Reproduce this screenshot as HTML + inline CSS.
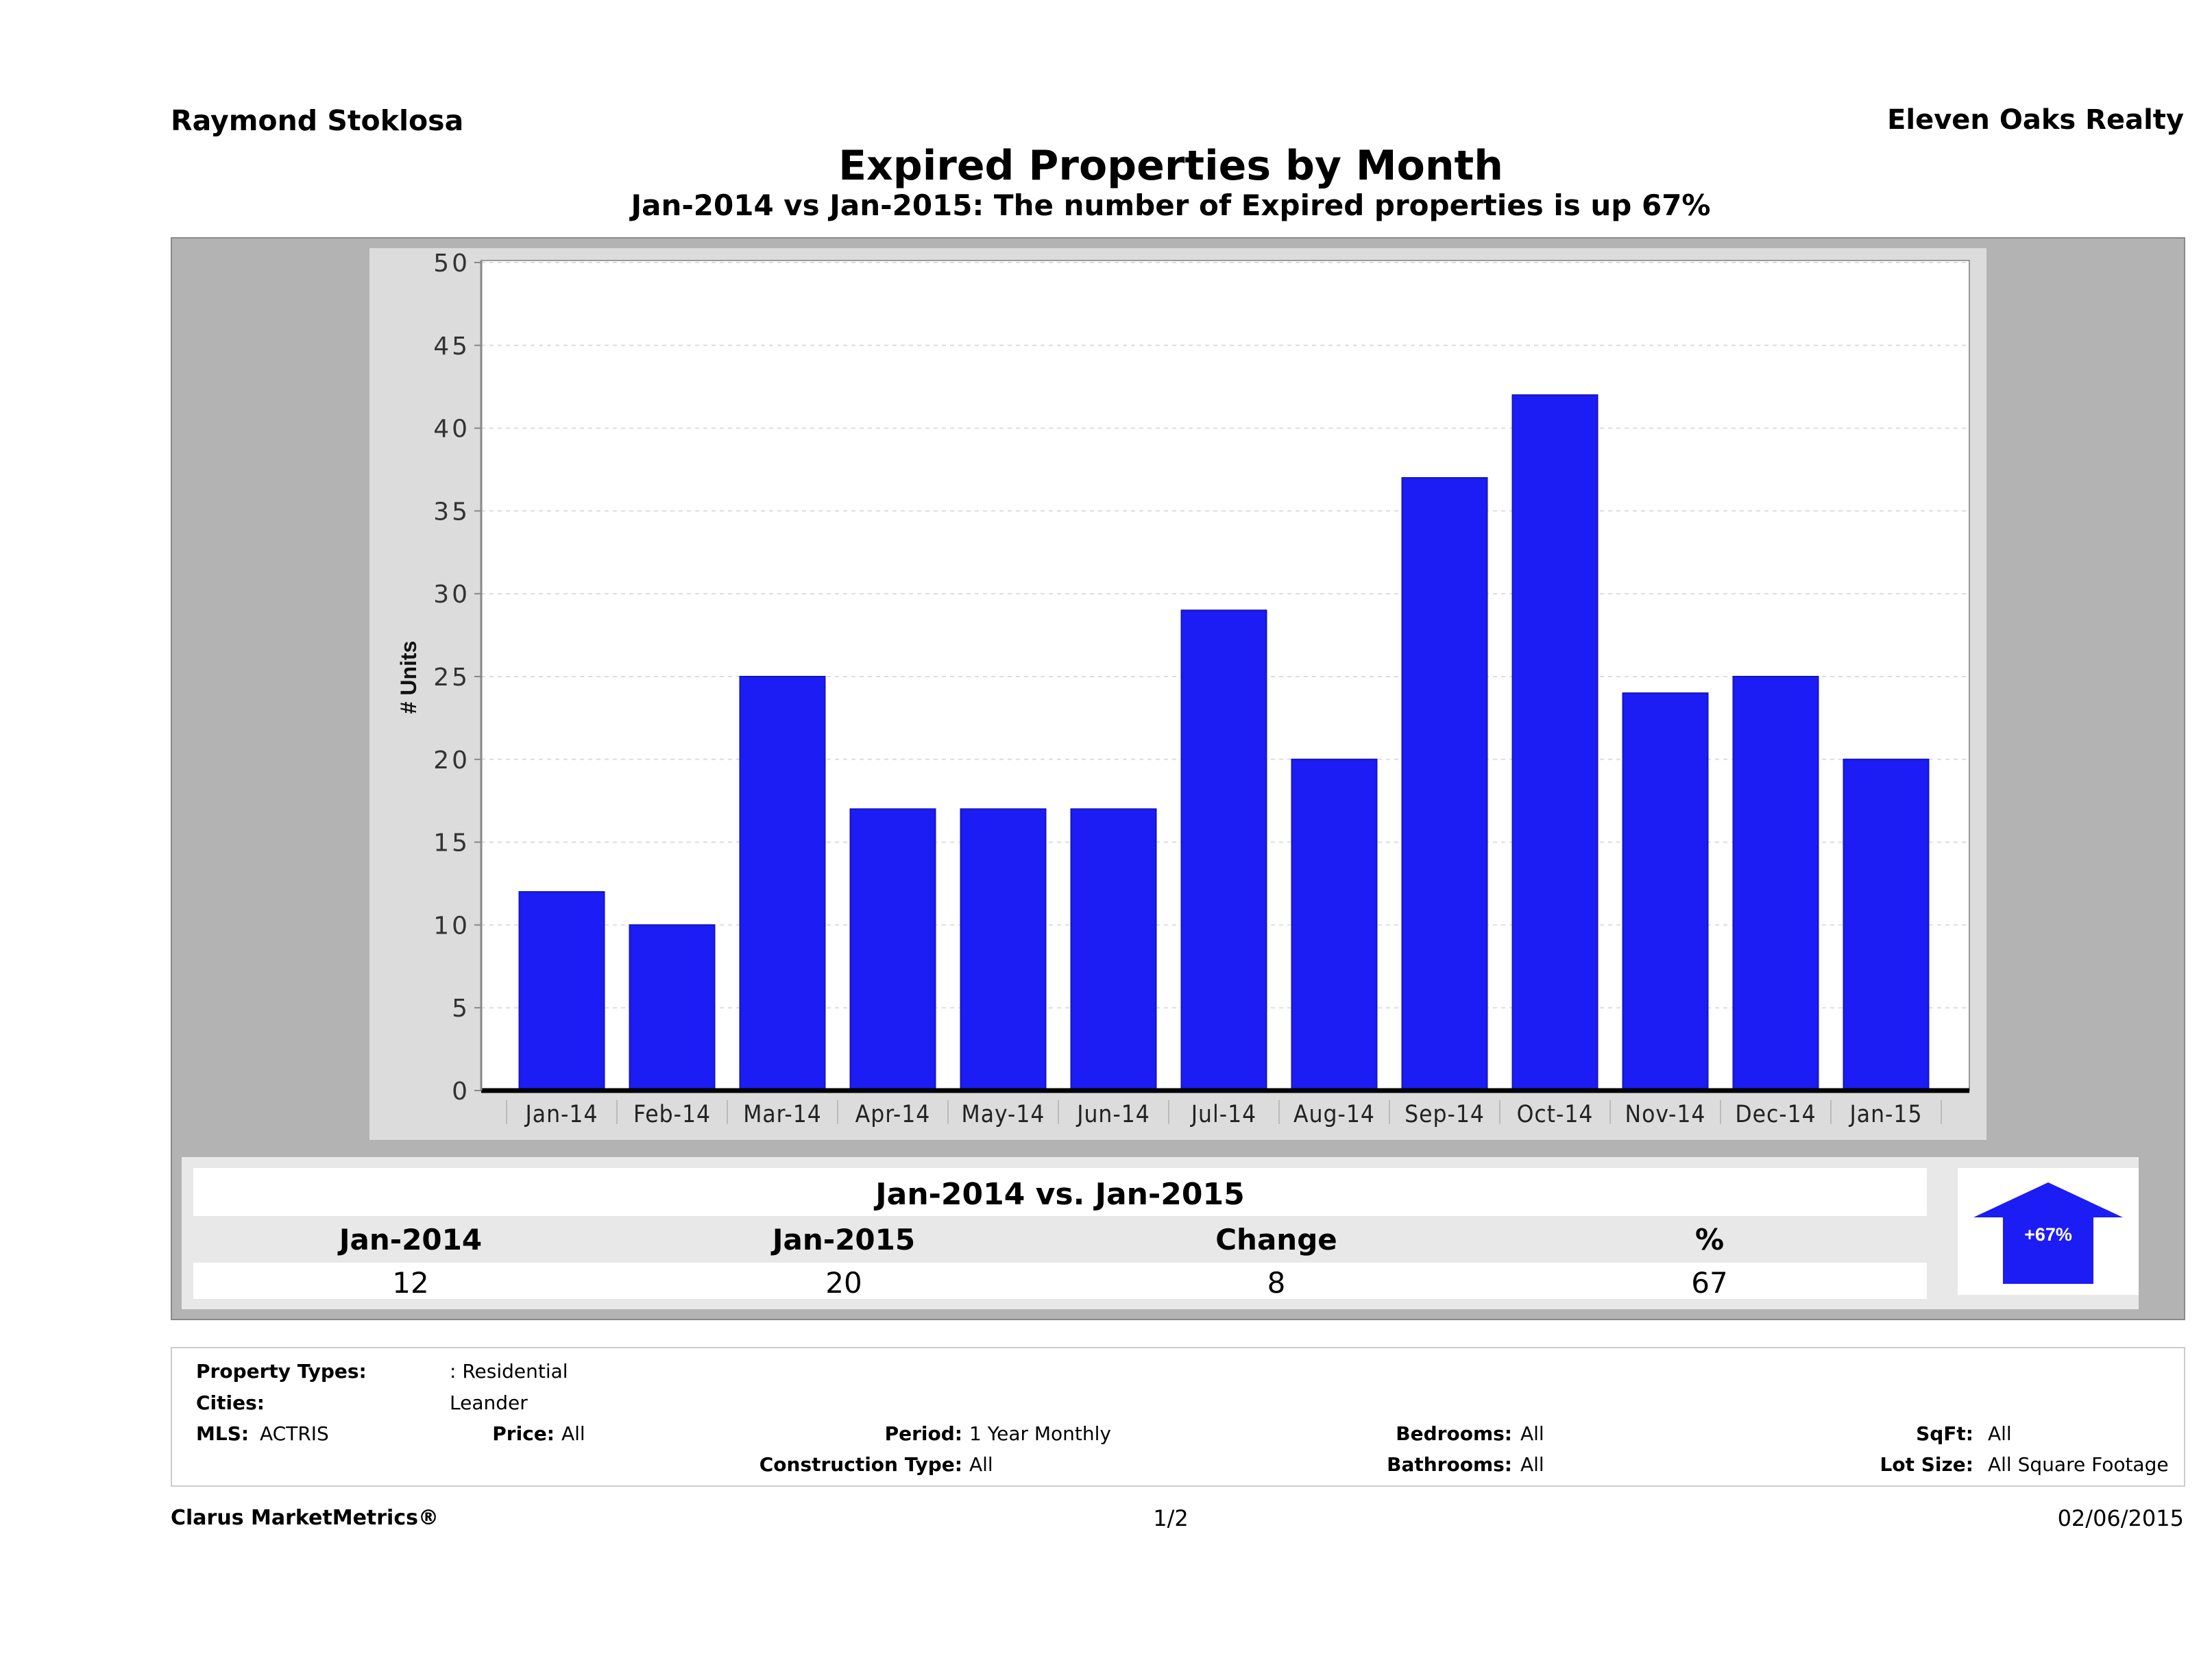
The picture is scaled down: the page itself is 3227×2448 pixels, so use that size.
<!DOCTYPE html>
<html><head><meta charset="utf-8"><style>
body{margin:0;background:#fff;font-family:"DejaVu Sans","Liberation Sans",sans-serif;}
#root{position:relative;width:3227px;height:2448px;overflow:hidden;background:#fff;}
.a{position:absolute;white-space:nowrap;}
.b{font-weight:bold;}
.r{text-align:right;}
</style></head><body>
<div id="root">
<div class="a b" style="left:249px;top:152px;font-size:41px;">Raymond Stoklosa</div>
<div class="a b" style="right:41px;top:152px;font-size:40px;">Eleven Oaks Realty</div>
<div class="a b" style="left:0;width:3416px;text-align:center;top:207px;font-size:60px;">Expired Properties by Month</div>
<div class="a b" style="left:0;width:3416px;text-align:center;top:275px;font-size:42px;">Jan-2014 vs Jan-2015: The number of Expired  properties is up 67%</div>

<div class="a" style="left:249px;top:346px;width:2935px;height:1576px;background:#b3b3b3;border:2px solid #8a8a8a;"></div>
<div class="a" style="left:539px;top:362px;width:2359px;height:1301px;background:#dcdcdc;"></div>

<svg class="a" style="left:0;top:0" width="3227" height="1700">
<g id="g"></g>
</svg>

<div class="a" style="left:265px;top:1688px;width:2855px;height:222px;background:#e8e8e8;"></div>
<div class="a" style="left:282px;top:1704px;width:2529px;height:70px;background:#fff;"></div>
<div class="a b" style="left:282px;width:2529px;text-align:center;top:1717px;font-size:44px;">Jan-2014 vs. Jan-2015</div>
<div class="a" style="left:282px;top:1842px;width:2529px;height:53px;background:#fff;"></div>
<div class="a b" style="left:449px;width:300px;text-align:center;top:1784px;font-size:42px;">Jan-2014</div>
<div class="a b" style="left:1081px;width:300px;text-align:center;top:1784px;font-size:42px;">Jan-2015</div>
<div class="a b" style="left:1712px;width:300px;text-align:center;top:1784px;font-size:42px;">Change</div>
<div class="a b" style="left:2344px;width:300px;text-align:center;top:1784px;font-size:42px;">%</div>
<div class="a" style="left:449px;width:300px;text-align:center;top:1847px;font-size:42px;">12</div>
<div class="a" style="left:1081px;width:300px;text-align:center;top:1847px;font-size:42px;">20</div>
<div class="a" style="left:1712px;width:300px;text-align:center;top:1847px;font-size:42px;">8</div>
<div class="a" style="left:2344px;width:300px;text-align:center;top:1847px;font-size:42px;">67</div>
<div class="a" style="left:2856px;top:1704px;width:264px;height:185px;background:#fff;"></div>
<svg class="a" style="left:2856px;top:1704px" width="264" height="185">
<polygon points="132,21 241,72 198,72 198,169 66,169 66,72 23,72" fill="#1c1cf5"/>
<text x="132" y="106" text-anchor="middle" font-size="27" font-weight="bold" fill="#fff" font-family="Liberation Sans,sans-serif">+67%</text>
</svg>

<div class="a" style="left:249px;top:1965px;width:2935px;height:200px;border:2px solid #ccc;"></div>
<div style="font-size:28px;">
<div class="a b" style="left:286px;top:1984px;">Property Types:</div>
<div class="a" style="left:656px;top:1984px;">: Residential</div>
<div class="a b" style="left:286px;top:2030px;">Cities:</div>
<div class="a" style="left:656px;top:2030px;">Leander</div>
<div class="a b" style="left:286px;top:2075px;">MLS:</div>
<div class="a" style="left:379px;top:2075px;">ACTRIS</div>
<div class="a b r" style="right:2418px;top:2075px;">Price:</div>
<div class="a" style="left:819px;top:2075px;">All</div>
<div class="a b r" style="right:1823px;top:2075px;">Period:</div>
<div class="a" style="left:1414px;top:2075px;">1 Year Monthly</div>
<div class="a b r" style="right:1021px;top:2075px;">Bedrooms:</div>
<div class="a" style="left:2218px;top:2075px;">All</div>
<div class="a b r" style="right:348px;top:2075px;">SqFt:</div>
<div class="a" style="left:2900px;top:2075px;">All</div>
<div class="a b r" style="right:1823px;top:2120px;">Construction Type:</div>
<div class="a" style="left:1414px;top:2120px;">All</div>
<div class="a b r" style="right:1021px;top:2120px;">Bathrooms:</div>
<div class="a" style="left:2218px;top:2120px;">All</div>
<div class="a b r" style="right:348px;top:2120px;">Lot Size:</div>
<div class="a" style="left:2900px;top:2120px;">All Square Footage</div>
</div>
<div class="a b" style="left:249px;top:2197px;font-size:30px;">Clarus MarketMetrics®</div>
<div class="a" style="left:1608px;width:200px;text-align:center;top:2196px;font-size:32px;">1/2</div>
<div class="a" style="right:41px;top:2196px;font-size:32px;">02/06/2015</div>
</div>
<script>
const categories=["Jan-14","Feb-14","Mar-14","Apr-14","May-14","Jun-14","Jul-14","Aug-14","Sep-14","Oct-14","Nov-14","Dec-14","Jan-15"];
const values=[12,10,25,17,17,17,29,20,37,42,24,25,20];
const yTicks=[0,5,10,15,20,25,30,35,40,45,50];
const NS="http://www.w3.org/2000/svg";
const g=document.getElementById('g');
const PL=702,PR=2873,PT=383,PB=1591,YMAX=50;
const step=161,pad=37,bw=124;
const y=v=>PB-(v/YMAX)*(PB-PT);
const x=i=>PL+pad+step*(i+0.5);
function mk(t,a){const e=document.createElementNS(NS,t);for(const k in a)e.setAttribute(k,a[k]);g.appendChild(e);return e;}
let e=mk('rect',{x:PL,y:PT-3,width:PR-PL,height:PB-PT+3,fill:'#fff',stroke:'#999','stroke-width':2});


yTicks.forEach(t=>{
  if(t>0){let l=mk('line',{x1:PL,x2:PR,y1:y(t),y2:y(t),stroke:'#ddd','stroke-width':2,'stroke-dasharray':'6,6'});
  
  }
  mk('line',{x1:PL-10,x2:PL,y1:y(t),y2:y(t),stroke:'#888','stroke-width':2});
  let tx=mk('text',{x:PL-16,y:y(t)+13,'text-anchor':'end','font-size':36,fill:'#333','letter-spacing':4,'font-family':'DejaVu Sans,sans-serif'});
  tx.textContent=t;
  
  
});
values.forEach((v,i)=>{
  let r=mk('rect',{x:x(i)-bw/2,y:y(v),width:bw,height:PB-y(v),fill:'#1c1cf5',stroke:'#1515c0','stroke-width':2});
  
  
  let t=mk('text',{x:x(i),y:1637,'text-anchor':'middle','font-size':35,fill:'#222','letter-spacing':1,'font-family':'DejaVu Sans Condensed,DejaVu Sans,sans-serif'});
  t.textContent=categories[i];
  
  
});
for(let i=0;i<=categories.length;i++){mk('line',{x1:PL+pad+step*i,x2:PL+pad+step*i,y1:1605,y2:1640,stroke:'#bbb','stroke-width':2});}
e=mk('line',{x1:PL,x2:PR,y1:PB,y2:PB,stroke:'#000','stroke-width':7});


e=mk('line',{x1:PL,x2:PL,y1:PT-3,y2:PB,stroke:'#888','stroke-width':3});


e=mk('text',{x:0,y:0,transform:'translate(607,988) rotate(-90)','text-anchor':'middle','font-size':32,'font-weight':'bold',fill:'#111','font-family':'Liberation Sans,sans-serif'});
e.textContent='# Units';


</script>
</body></html>
